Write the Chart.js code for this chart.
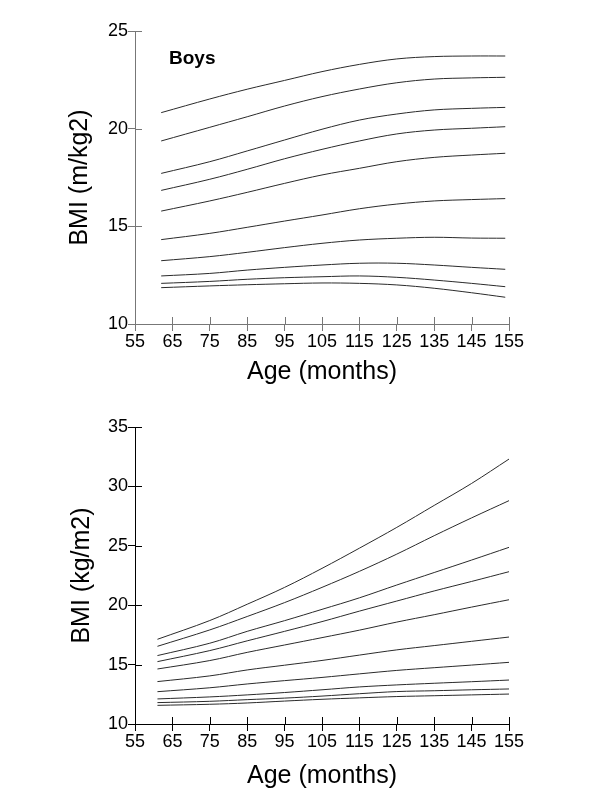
<!DOCTYPE html>
<html>
<head>
<meta charset="utf-8">
<script src="https://cdn.jsdelivr.net/npm/chart.js@4.4.1/dist/chart.umd.min.js"></script>
<style>
  body{ margin:0; background:#fff; }
  canvas{ display:block; }
</style>
</head>
<body>
<canvas id="topChart" width="600" height="400"></canvas>
<canvas id="bottomChart" width="600" height="400"></canvas>
<script>
// ages in months where the curves were read
const topAges = [62, 75, 85, 95, 105, 115, 125, 135, 145, 154];
const bottomAges = [61, 75, 85, 95, 105, 115, 125, 135, 145, 155];

// top panel (Boys), highest curve first
const boysP1  = [20.82, 21.52, 22.02, 22.47, 22.92, 23.29, 23.57, 23.69, 23.72, 23.72];
const boysP2  = [19.37, 20.07, 20.61, 21.16, 21.64, 22.03, 22.35, 22.54, 22.60, 22.63];
const boysP3  = [17.71, 18.31, 18.86, 19.42, 19.97, 20.44, 20.75, 20.96, 21.04, 21.09];
const boysP4  = [16.84, 17.41, 17.92, 18.46, 18.94, 19.37, 19.73, 19.93, 20.02, 20.10];
const boysP5  = [15.78, 16.30, 16.74, 17.20, 17.63, 17.97, 18.31, 18.53, 18.65, 18.74];
const boysP6  = [14.32, 14.64, 14.95, 15.27, 15.58, 15.90, 16.14, 16.30, 16.37, 16.42];
const boysP7  = [13.24, 13.45, 13.67, 13.91, 14.13, 14.30, 14.39, 14.44, 14.40, 14.39];
const boysP8  = [12.46, 12.59, 12.76, 12.90, 13.02, 13.11, 13.11, 13.02, 12.90, 12.80];
const boysP9  = [12.08, 12.18, 12.29, 12.37, 12.42, 12.46, 12.39, 12.25, 12.08, 11.91];
const boysP10 = [11.86, 11.95, 12.01, 12.06, 12.10, 12.08, 12.00, 11.83, 11.60, 11.37];

// bottom panel, highest curve first
const lowP1  = [17.13, 18.71, 20.08, 21.50, 23.10, 24.80, 26.55, 28.40, 30.25, 32.30];
const lowP2  = [16.54, 17.92, 19.05, 20.22, 21.50, 22.85, 24.30, 25.85, 27.35, 28.80];
const lowP3  = [15.76, 16.80, 17.80, 18.70, 19.65, 20.62, 21.70, 22.75, 23.80, 24.87];
const lowP4  = [15.25, 16.18, 17.00, 17.80, 18.62, 19.50, 20.35, 21.20, 22.00, 22.82];
const lowP5  = [14.63, 15.34, 16.03, 16.65, 17.27, 17.90, 18.58, 19.20, 19.84, 20.46];
const lowP6  = [13.57, 14.05, 14.55, 14.95, 15.35, 15.80, 16.24, 16.60, 16.96, 17.32];
const lowP7  = [12.72, 13.05, 13.37, 13.65, 13.92, 14.22, 14.51, 14.74, 14.96, 15.19];
const lowP8  = [12.11, 12.28, 12.45, 12.65, 12.88, 13.12, 13.29, 13.43, 13.56, 13.70];
const lowP9  = [11.80, 11.91, 12.05, 12.18, 12.35, 12.55, 12.73, 12.80, 12.88, 12.95];
const lowP10 = [11.57, 11.66, 11.77, 11.93, 12.08, 12.20, 12.31, 12.38, 12.45, 12.52];

const xTicks = [55, 65, 75, 85, 95, 105, 115, 125, 135, 145, 155];

const FONT = "'Liberation Sans', Arial, sans-serif";

function toSet(ages, vals){
  return {
    data: vals.map((v, i) => ({ x: ages[i], y: v })),
    borderColor: "#2a2a2a",
    borderWidth: 1,
    pointRadius: 0,
    fill: false,
    tension: 0.35
  };
}

// short tick marks on the inner side of the axes, so ticks cross the axis line
const crossTicks = {
  id: "crossTicks",
  afterDraw(chart, args, opts){
    const ctx = chart.ctx, a = chart.chartArea;
    const xs = chart.scales.x, ys = chart.scales.y;
    ctx.save();
    ctx.strokeStyle = opts.color;
    ctx.lineWidth = 1;
    ctx.beginPath();
    xs.ticks.forEach(t => {
      const px = Math.round(xs.getPixelForValue(t.value)) + 0.5;
      ctx.moveTo(px, a.bottom); ctx.lineTo(px, a.bottom - 7);
    });
    ys.ticks.forEach(t => {
      const py = Math.round(ys.getPixelForValue(t.value)) + 0.5;
      ctx.moveTo(a.left, py); ctx.lineTo(a.left + 7, py);
    });
    ctx.stroke();
    if(opts.label){
      ctx.fillStyle = "#000";
      ctx.font = "bold 19px " + FONT;
      ctx.textBaseline = "alphabetic";
      ctx.fillText(opts.label, 169, 64);
    }
    ctx.restore();
  }
};

function makeChart(id, ages, sets, yMax, yTitle, opt){
  const ctx = document.getElementById(id).getContext("2d");
  return new Chart(ctx, {
    type: "line",
    data: { datasets: sets.map(s => toSet(ages, s)) },
    plugins: [crossTicks],
    options: {
      responsive: false,
      animation: false,
      layout: { padding: { top: opt.top, right: 91, bottom: 0, left: 0 } },
      plugins: {
        legend: { display: false },
        tooltip: { enabled: false },
        crossTicks: { color: opt.axis, label: opt.label }
      },
      scales: {
        x: {
          type: "linear",
          min: 55, max: 155,
          afterBuildTicks: s => { s.ticks = xTicks.map(v => ({ value: v })); },
          afterFit: s => { s.height = 76; },
          ticks: { color: "#000", font: { family: FONT, size: 18 }, padding: 0, maxRotation: 0 },
          grid: { drawOnChartArea: false, tickLength: 7, color: opt.axis },
          border: { color: opt.axis },
          title: { display: true, text: "Age (months)", color: "#000",
                   font: { family: FONT, size: 25 }, padding: { top: 0, bottom: opt.xTitlePad } }
        },
        y: {
          min: 10, max: yMax,
          afterFit: s => { s.width = 135; },
          ticks: { stepSize: 5, color: "#000", font: { family: FONT, size: 18 }, padding: 0 },
          grid: { drawOnChartArea: false, tickLength: 7, color: opt.axis },
          border: { color: opt.axis },
          title: { display: true, text: yTitle, color: "#000",
                   font: { family: FONT, size: 25 }, padding: { top: opt.yTitlePad, bottom: 0 } }
        }
      }
    }
  });
}

makeChart("topChart", topAges,
  [boysP1, boysP2, boysP3, boysP4, boysP5, boysP6, boysP7, boysP8, boysP9, boysP10],
  25, "BMI (m/kg2)", { top: 31, axis: "#777", label: "Boys", xTitlePad: 13, yTitlePad: 65 });

makeChart("bottomChart", bottomAges,
  [lowP1, lowP2, lowP3, lowP4, lowP5, lowP6, lowP7, lowP8, lowP9, lowP10],
  35, "BMI (kg/m2)", { top: 27, axis: "#000", label: null, xTitlePad: 9, yTitlePad: 67 });
</script>
</body>
</html>
